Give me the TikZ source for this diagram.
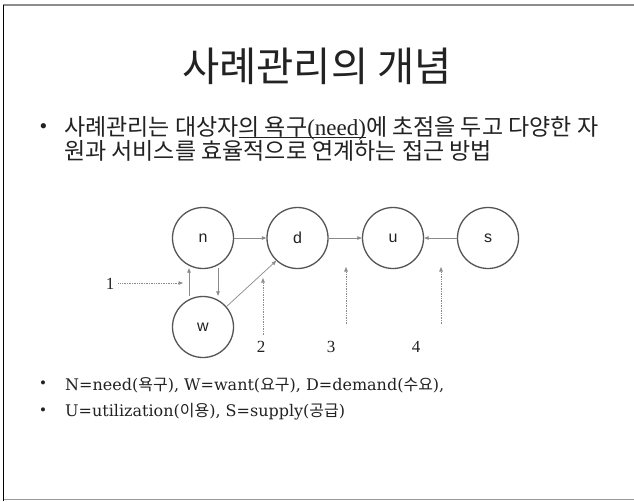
\documentclass[tikz,border=0pt]{standalone}
\usepackage{fontspec}
\setmainfont{Liberation Serif}
\newfontfamily\kr{Noto Sans CJK KR}
\newfontfamily\lsans{Liberation Sans}
\newfontfamily\dser{DejaVu Serif}
\newcommand\kk[1]{{\kr #1}}
\newcommand\myul[1]{\setbox0\hbox{#1}\rlap{\copy0}\rule[-3pt]{\wd0}{0.8pt}}
\usetikzlibrary{arrows.meta}
\definecolor{cgray}{HTML}{555555}
\definecolor{agray}{HTML}{8A8A8A}
\definecolor{txt}{HTML}{222222}
\begin{document}
\begin{tikzpicture}[x=1pt,y=-1pt,
  circ/.style={circle, draw=cgray, line width=1.3pt, minimum size=61pt, inner sep=0pt, text=txt, font=\lsans\fontsize{16}{16}\selectfont},
  conn/.style={draw=agray, line width=0.7pt, -{Triangle[length=4.5pt,width=3.5pt]}},
  dconn/.style={conn, densely dotted},
  lbl/.style={inner sep=1pt, text=txt, font=\fontsize{17}{17}\selectfont},
  body/.style={anchor=west, inner sep=0pt, text=txt},
  bul/.style={inner sep=0pt, text=txt}]
\useasboundingbox (0,0) rectangle (634,501);
\fill[white] (0,0) rectangle (634,501);
% frame
\draw[draw=gray!90, line width=1.4pt] (3,5) -- (634,5);
\draw[draw=gray!80, line width=1.2pt] (3,499.5) -- (634,499.5);
\draw[black, line width=1pt] (3,5) -- (3,501);
% title
\node[inner sep=0pt, text=txt, font=\kr\fontsize{40.5}{40.5}\selectfont] (title) at (317,66) {사례관리의 개념};
% bullet 1
\node[bul, font=\fontsize{22}{22}\selectfont] (b1) at (43.5,129) {•};
\node[body, font=\kr\fontsize{23}{23}\selectfont] (t1) at (64,128) {사례관리는 대상자\myul{의 욕구{\rmfamily(need)}}에 초점을 두고 다양한 자};
\node[body, font=\kr\fontsize{23}{23}\selectfont] (t2) at (64,151) {원과 서비스를 효율적으로 연계하는 접근 방법};
% circles
\node[circ] (n) at (203,238) {n};
\node[circ] (d) at (297.5,238) {d};
\node[circ] (u) at (393,238) {u};
\node[circ] (s) at (488,238) {s};
\node[circ] (w) at (203,327) {w};
% solid connectors
\draw[conn] (n) -- (d);
\draw[conn] (d) -- (u);
\draw[conn] (s) -- (u);
\draw[conn] ([xshift=-14pt]w.north) -- ([xshift=-14pt,yshift=1pt]n.south);
\draw[conn] ([xshift=15pt,yshift=1pt]n.south) -- ([xshift=15pt]w.north);
\draw[conn] (w.41) -- (d.227);
% labels and dotted connectors
\node[lbl] (l1) at (110,283.5) {1};
\node[lbl] (l2) at (261,347) {2};
\node[lbl] (l3) at (331,347) {3};
\node[lbl] (l4) at (416,347) {4};
\coordinate (e1) at (183,283);
\coordinate (s2) at (263,335);
\coordinate (e2) at (263,278);
\coordinate (s3) at (346,324);
\coordinate (e3) at (346,267);
\coordinate (s4) at (441,324);
\coordinate (e4) at (441,267);
\draw[dconn] ([xshift=3pt]l1.east |- e1) -- (e1);
\draw[dconn] (s2) -- (e2);
\draw[dconn] (s3) -- (e3);
\draw[dconn] (s4) -- (e4);
% bottom bullets
\node[bul, font=\fontsize{17}{17}\selectfont] (b2) at (43,385) {•};
\node[bul, font=\fontsize{17}{17}\selectfont] (b3) at (43,412) {•};
\node[body, font=\dser\fontsize{16}{16}\selectfont] (t3) at (65,385) {N=need(\kk{욕구}), W=want(\kk{요구}), D=demand(\kk{수요}),};
\node[body, font=\dser\fontsize{16}{16}\selectfont] (t4) at (65,412) {U=utilization(\kk{이용}), S=supply(\kk{공급})};
\end{tikzpicture}
\end{document}
